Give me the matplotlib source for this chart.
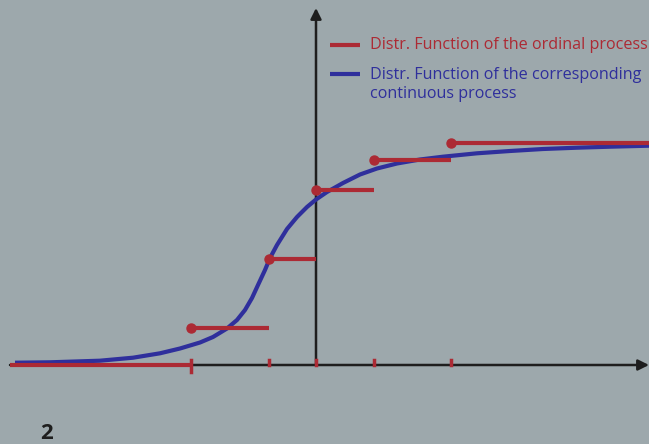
import matplotlib
matplotlib.use("Agg")
import matplotlib.pyplot as plt

# Step function (ordinal process): thresholds and cumulative levels (arbitrary units)
thresholds = [-125, -47, 0, 58, 135]
levels = [37, 106, 175, 205, 222]
step_ends = [-47, 0, 58, 135, 333]
left_start = -306

# Continuous distribution function
cont_x = [-301, -266, -216, -183, -156, -136, -116, -103, -89, -79, -71, -64,
          -58, -51, -46, -39, -29, -19, -9, 0, 11, 27, 44, 61, 81, 104, 127,
          161, 194, 227, 261, 294, 333]
cont_y = [2.3, 2.7, 4.3, 7.3, 11.7, 16.5, 22.5, 28, 36.5, 45, 55, 67, 80, 95,
          107, 120, 136, 148, 158, 165.5, 173, 182, 190.5, 196.5, 201.5, 205.5,
          208.3, 211.7, 214, 216, 217.3, 218.3, 219.3]

legend_labels = ["Distr. Function of the ordinal process",
                 "Distr. Function of the corresponding\ncontinuous process"]
panel_label = "2"

BG = "#9da8ac"
RED = "#ac2a34"
BLUE = "#2f2f9c"
AX = "#1e1e1e"

fig = plt.figure(figsize=(6.49, 4.44), dpi=100, facecolor=BG)
ax = fig.add_axes([0, 0, 1, 1])
ax.set_facecolor(BG)
ax.set_xlim(-316, 333)
ax.set_ylim(-79, 365)
ax.axis("off")

# axes with arrows
ax.annotate("", xy=(333, 0), xytext=(-306, 0),
            arrowprops=dict(arrowstyle="-|>", color=AX, lw=1.8, mutation_scale=16,
                            shrinkA=0, shrinkB=0))
ax.annotate("", xy=(0, 357), xytext=(0, 0),
            arrowprops=dict(arrowstyle="-|>", color=AX, lw=1.8, mutation_scale=16,
                            shrinkA=0, shrinkB=0))

# continuous curve
ax.plot(cont_x, cont_y, color=BLUE, lw=3.0, solid_capstyle="butt",
        solid_joinstyle="round", zorder=3)

# step function
ax.plot([left_start, thresholds[0]], [0, 0], color=RED, lw=3.0,
        solid_capstyle="butt", zorder=4)
for x0, x1, lv in zip(thresholds, step_ends, levels):
    ax.plot([x0, x1], [lv, lv], color=RED, lw=3.0, solid_capstyle="butt", zorder=4)
    ax.plot([x0], [lv], "o", color=RED, ms=6.5, zorder=5)

# ticks on x axis
ax.plot([thresholds[0], thresholds[0]], [-7, 5], color=RED, lw=2.5, zorder=5)
for t in thresholds[1:]:
    ax.plot([t, t], [0, 5], color=RED, lw=2.5, zorder=5)

# legend (manual)
ax.plot([14, 44], [320, 320], color=RED, lw=3.0, solid_capstyle="butt")
ax.text(54, 320, legend_labels[0], color=RED, fontsize=11.6, family="Open Sans",
        va="center", ha="left")
ax.plot([14, 44], [291, 291], color=BLUE, lw=3.0, solid_capstyle="butt")
ax.text(54, 298, legend_labels[1], color=BLUE, fontsize=11.6, family="Open Sans",
        va="top", ha="left", linespacing=1.22)

ax.text(-269, -68, panel_label, color="#1e1e1e", fontsize=16, fontweight="bold",
        family="Open Sans", ha="center", va="center")

fig.savefig("out.png", dpi=100, facecolor=BG)
